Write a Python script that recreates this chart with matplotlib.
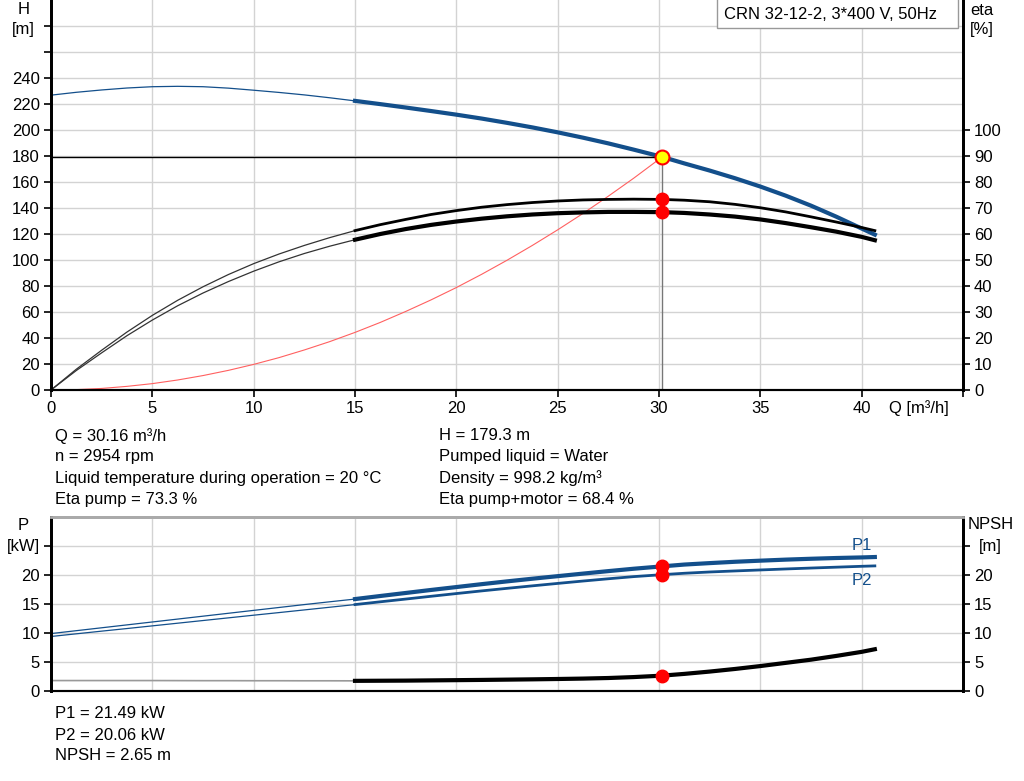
import matplotlib
matplotlib.use("Agg")
import matplotlib.pyplot as plt
from matplotlib.patches import Rectangle
import numpy as np

plt.rcParams['font.family'] = ['Liberation Sans', 'DejaVu Sans']
plt.rcParams['font.size'] = 12

# ---- data ----
q = np.array([0, 1.25, 2.5, 3.75, 5, 6.25, 7.5, 8.75, 10, 11.25, 12.5, 13.75, 15,
              16.25, 17.5, 18.75, 20, 21.25, 22.5, 23.75, 25, 26.25, 27.5, 28.75,
              30.16, 31.25, 32.5, 33.75, 35, 36.25, 37.5, 38.75, 40, 40.65])
head = np.array([226.8, 229.0, 230.8, 232.3, 233.3, 233.6, 233.3, 232.2, 230.6, 228.9,
                 227.0, 224.8, 222.4, 219.9, 217.3, 214.6, 211.8, 208.8, 205.5, 202.0,
                 198.2, 194.1, 189.7, 184.9, 179.3, 174.3, 168.8, 162.9, 156.5, 149.5,
                 141.8, 133.3, 124.2, 119.5])
eta_pump = np.array([0, 8.0, 15.3, 22.3, 28.7, 34.5, 39.7, 44.4, 48.6, 52.3,
                     55.6, 58.6, 61.3, 63.6, 65.6, 67.5, 69.0, 70.3, 71.3, 72.1,
                     72.7, 73.1, 73.3, 73.4, 73.3, 73.0, 72.4, 71.4, 70.1, 68.5,
                     66.6, 64.6, 62.5, 61.3])
eta_total = np.array([0, 7.5, 14.3, 20.9, 26.9, 32.4, 37.3, 41.7, 45.7, 49.3,
                      52.5, 55.3, 57.8, 60.0, 61.9, 63.5, 64.8, 65.9, 66.8, 67.5,
                      68.0, 68.3, 68.5, 68.5, 68.4, 68.1, 67.5, 66.7, 65.6, 64.2,
                      62.6, 60.9, 58.9, 57.6])
p1 = np.array([9.9, 10.4, 10.9, 11.4, 11.9, 12.4, 12.9, 13.4, 13.9, 14.4,
               14.9, 15.38, 15.85, 16.38, 16.9, 17.42, 17.92, 18.42, 18.9, 19.36,
               19.8, 20.24, 20.67, 21.08, 21.49, 21.8, 22.05, 22.28, 22.47, 22.65,
               22.8, 22.93, 23.03, 23.1])
p2 = np.array([9.4, 9.86, 10.32, 10.77, 11.23, 11.69, 12.15, 12.61, 13.07, 13.52,
               13.98, 14.44, 14.9, 15.38, 15.85, 16.33, 16.8, 17.26, 17.7, 18.13,
               18.55, 18.96, 19.35, 19.72, 20.06, 20.3, 20.52, 20.7, 20.87, 21.04,
               21.2, 21.35, 21.5, 21.57])
npsh = np.array([1.8, 1.8, 1.8, 1.8, 1.8, 1.79, 1.78, 1.78, 1.77, 1.77,
                 1.76, 1.76, 1.75, 1.77, 1.79, 1.83, 1.87, 1.91, 1.96, 2.01,
                 2.07, 2.14, 2.24, 2.4, 2.65, 2.95, 3.35, 3.8, 4.3, 4.85,
                 5.4, 6.05, 6.75, 7.2])

# system curve up to the duty point
h_sys = np.array([0, 0.3, 1.2, 2.8, 4.9, 7.7, 11.1, 15.1, 19.7, 24.9, 30.8, 37.2, 44.3,
                  52.0, 60.4, 69.3, 78.8, 89.0, 99.8, 111.2, 123.2, 135.8, 149.1,
                  162.9, 179.3])

q_op, h_op = 30.16, 179.3
eta_op = [73.3, 68.4]
p_op = [21.49, 20.06]
npsh_op = 2.65

blue = '#134f8b'
grid_c = '#d3d3d3'
thin = q <= 15
thick = q >= 15
q_sys = q[q <= q_op]

fig = plt.figure(figsize=(10.24, 7.81), dpi=100)

# ---------------- top panel: H / eta ----------------
ax = fig.add_axes([51/1024, 1-390/781, 912/1024, 390/781])
ax.set_xlim(0, 45)
ax.set_ylim(0, 300)
ax.set_yticks(np.arange(0, 300, 20))
ax.set_yticklabels([str(v) if v <= 240 else '' for v in range(0, 300, 20)])
ax.set_xticks(np.arange(0, 50, 5))
ax.set_xticklabels([str(v) if v <= 40 else '' for v in range(0, 50, 5)])
ax.grid(True, color=grid_c, lw=1)
ax.set_axisbelow(True)
ax.tick_params(direction='out', length=5, width=1.2, pad=3)

ax.plot(q[thin], head[thin], color=blue, lw=0.9)
ax.plot(q[thick], head[thick], color=blue, lw=3)
ax.plot(q_sys, h_sys, color='#ff6060', lw=0.8)
ax.plot([0, q_op], [h_op, h_op], color='black', lw=1)
ax.plot([q_op, q_op], [0, h_op], color='#777777', lw=1)

ax2 = ax.twinx()
ax2.set_ylim(0, 150)
ax2.set_yticks(np.arange(0, 110, 10))
ax2.tick_params(direction='out', length=5, width=1.2, pad=3)
ax2.plot(q[thin], eta_pump[thin], color='#333333', lw=0.9)
ax2.plot(q[thin], eta_total[thin], color='#333333', lw=0.9)
ax2.plot(q[thick], eta_pump[thick], color='black', lw=2)
ax2.plot(q[thick], eta_total[thick], color='black', lw=3)
ax2.plot([q_op, q_op], eta_op, 'o', color='red', ms=9, mec='red')
ax2.plot(q_op, h_op, 'o', color='yellow', mec='red', mew=1.5, ms=10,
         transform=ax.transData)

for a in (ax, ax2):
    a.spines['top'].set_visible(False)
    a.spines['left'].set_linewidth(2)
    a.spines['right'].set_linewidth(2)
    a.spines['bottom'].set_linewidth(1.5)

ax.text(-0.03, 0.975, 'H', transform=ax.transAxes, ha='center', va='center')
ax.text(-0.03, 0.925, '[m]', transform=ax.transAxes, ha='center', va='center')
ax2.text(1.021, 0.972, 'eta', transform=ax.transAxes, ha='center', va='center')
ax2.text(1.021, 0.924, '[%]', transform=ax.transAxes, ha='center', va='center')
ax.text(0.952, -0.047, 'Q [m³/h]', transform=ax.transAxes, ha='center', va='center')

# title box in the upper right corner
ax2.add_patch(Rectangle((0.730, 0.928), 0.2645, 0.08, transform=ax.transAxes,
                        fc='white', ec='#999999', lw=1, zorder=5))
ax2.text(0.738, 0.964, 'CRN 32-12-2, 3*400 V, 50Hz', transform=ax.transAxes,
         ha='left', va='center', zorder=6)

# ---------------- info text ----------------
left_lines = ['Q = 30.16 m³/h', 'n = 2954 rpm',
              'Liquid temperature during operation = 20 °C', 'Eta pump = 73.3 %']
right_lines = ['H = 179.3 m', 'Pumped liquid = Water',
               'Density = 998.2 kg/m³', 'Eta pump+motor = 68.4 %']
for i, (l, r) in enumerate(zip(left_lines, right_lines)):
    y = 1 - (436 + 21 * i) / 781
    fig.text(55/1024, y, l, ha='left', va='center')
    fig.text(439/1024, y, r, ha='left', va='center')

# ---------------- bottom panel: P / NPSH ----------------
bx = fig.add_axes([51/1024, 1-691/781, 912/1024, 174/781])
bx.set_xlim(0, 45)
bx.set_ylim(0, 30)
bx.set_xticks(np.arange(0, 50, 5))
bx.set_xticklabels([])
bx.set_yticks(np.arange(0, 30, 5))
bx.set_yticklabels(['0', '5', '10', '15', '20', ''])
bx.grid(True, color=grid_c, lw=1)
bx.set_axisbelow(True)
bx.tick_params(axis='x', length=0)
bx.tick_params(axis='y', direction='out', length=5, width=1.2, pad=3)

bx.plot(q[thin], p1[thin], color=blue, lw=0.9)
bx.plot(q[thin], p2[thin], color=blue, lw=0.9)
bx.plot(q[thick], p1[thick], color=blue, lw=3)
bx.plot(q[thick], p2[thick], color=blue, lw=2)
bx.plot(q[thin], npsh[thin], color='#999999', lw=1.2)
bx.plot(q[thick], npsh[thick], color='black', lw=3)
bx.plot([q_op, q_op], p_op, 'o', color='red', ms=9, mec='red')
bx.plot(q_op, npsh_op, 'o', color='red', ms=9, mec='red')
bx.text(40.0, 25.0, 'P1', color=blue, ha='center', va='center')
bx.text(40.0, 19.0, 'P2', color=blue, ha='center', va='center')

bx2 = bx.twinx()
bx2.set_ylim(0, 30)
bx2.set_yticks(np.arange(0, 30, 5))
bx2.set_yticklabels(['0', '5', '10', '15', '20', ''])
bx2.tick_params(direction='out', length=5, width=1.2, pad=3)

for a in (bx, bx2):
    a.spines['top'].set_color('#aaaaaa')
    a.spines['top'].set_linewidth(2)
    a.spines['left'].set_linewidth(2)
    a.spines['right'].set_linewidth(2)
    a.spines['bottom'].set_linewidth(1.5)

bx.text(-0.03, 0.95, 'P', transform=bx.transAxes, ha='center', va='center')
bx.text(-0.03, 0.83, '[kW]', transform=bx.transAxes, ha='center', va='center')
bx2.text(1.03, 0.955, 'NPSH', transform=bx.transAxes, ha='center', va='center')
bx2.text(1.03, 0.83, '[m]', transform=bx.transAxes, ha='center', va='center')

for i, s in enumerate(['P1 = 21.49 kW', 'P2 = 20.06 kW', 'NPSH = 2.65 m']):
    fig.text(55/1024, 1 - (714 + 21 * i) / 781, s, ha='left', va='center')

fig.savefig('out.png', dpi=100, facecolor='white')
